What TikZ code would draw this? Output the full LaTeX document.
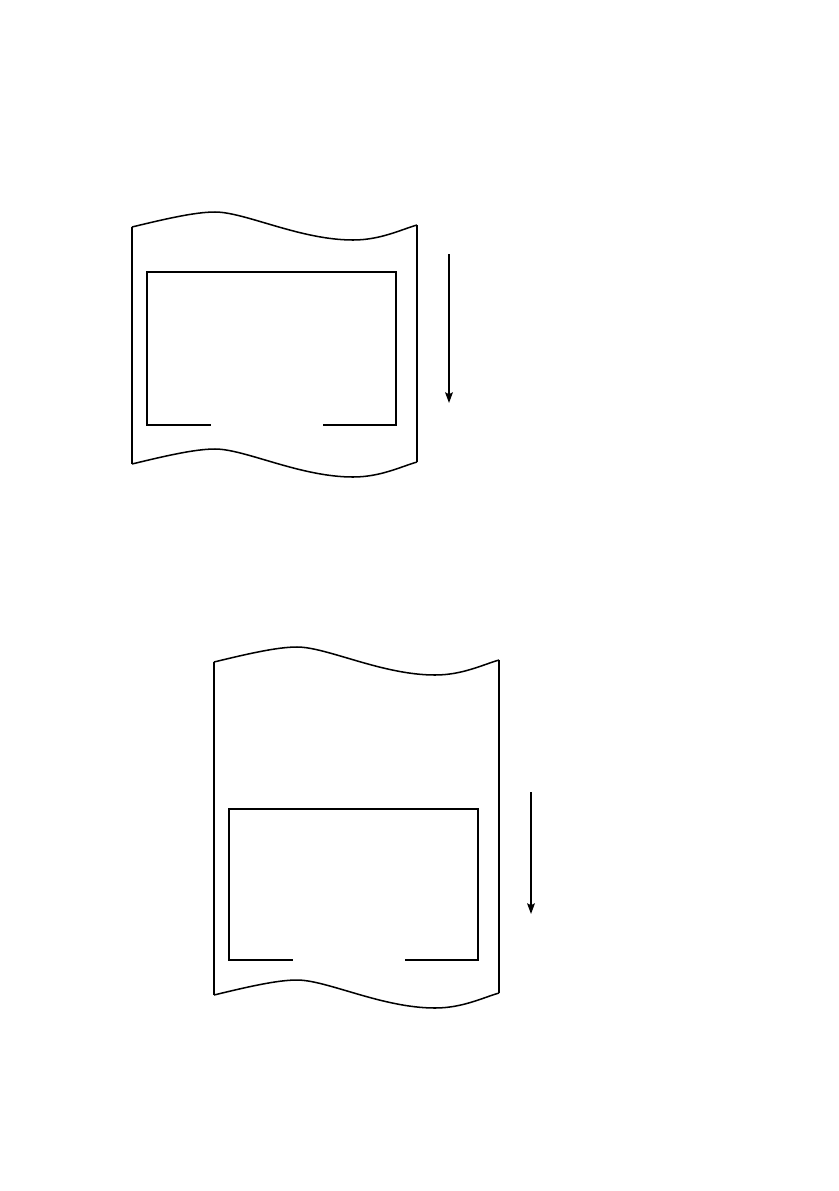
\documentclass[tikz,border=0pt]{standalone}
\usetikzlibrary{arrows.meta}
\tikzset{
  wave/.style={line width=1.3pt, line join=round},
  side/.style={line width=0.9pt},
  frame/.style={line width=1.5pt, line cap=rect},
  feed/.style={line width=1.6pt, -{Stealth[length=9pt,width=6.5pt,inset=1.5pt]}},
}
\newcommand{\wavepath}{(0,0) .. controls (33,-8) and (63,-15) .. (83,-15)
  .. controls (113,-15) and (168,13) .. (221,13)
  .. controls (248,13) and (268,3) .. (285,-2)}
\begin{document}
\begin{tikzpicture}[x=0.03cm,y=-0.03cm]
\useasboundingbox (0,0) rectangle (839,1191);
% ---------- sheet 1 ----------
\begin{scope}[shift={(132,227)}]
  \draw[wave] \wavepath;
\end{scope}
\begin{scope}[shift={(132,464)}]
  \draw[wave] \wavepath;
\end{scope}
\coordinate (s1tl) at (132,227); \coordinate (s1bl) at (132,464);
\coordinate (s1tr) at (417,225); \coordinate (s1br) at (417,462);
\draw[side] (s1tl) -- (s1bl);
\draw[side] (s1tr) -- (s1br);
\coordinate (b1a) at (210,425); \coordinate (b1b) at (147,425);
\coordinate (b1c) at (147,272); \coordinate (b1d) at (396,272);
\coordinate (b1e) at (396,425); \coordinate (b1f) at (324,425);
\draw[frame] (b1a) -- (b1b) -- (b1c) -- (b1d) -- (b1e) -- (b1f);
\coordinate (a1s) at (449,254); \coordinate (a1e) at (449,403);
\draw[feed] (a1s) -- (a1e);
% ---------- sheet 2 ----------
\begin{scope}[shift={(214,662)}]
  \draw[wave] \wavepath;
\end{scope}
\begin{scope}[shift={(214,995)}]
  \draw[wave] \wavepath;
\end{scope}
\coordinate (s2tl) at (214,662); \coordinate (s2bl) at (214,995);
\coordinate (s2tr) at (499,660); \coordinate (s2br) at (499,993);
\draw[side] (s2tl) -- (s2bl);
\draw[side] (s2tr) -- (s2br);
\coordinate (b2a) at (292,960); \coordinate (b2b) at (229,960);
\coordinate (b2c) at (229,809); \coordinate (b2d) at (478,809);
\coordinate (b2e) at (478,960); \coordinate (b2f) at (406,960);
\draw[frame] (b2a) -- (b2b) -- (b2c) -- (b2d) -- (b2e) -- (b2f);
\coordinate (a2s) at (531,792); \coordinate (a2e) at (531,914);
\draw[feed] (a2s) -- (a2e);
\end{tikzpicture}
\end{document}
